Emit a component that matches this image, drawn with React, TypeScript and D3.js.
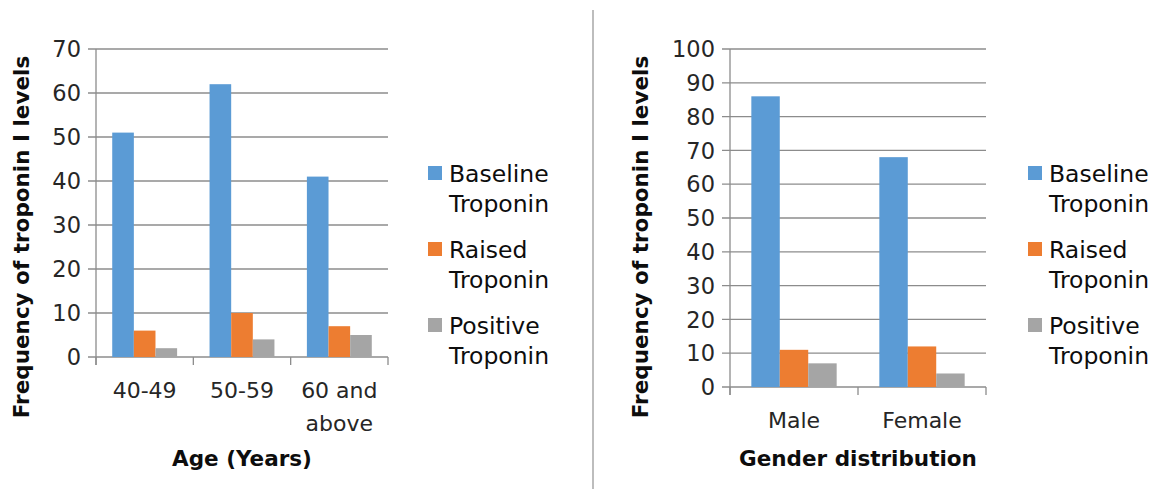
import React from "react";
import * as d3 from "d3";

const seriesNames = ["Baseline Troponin", "Raised Troponin", "Positive Troponin"];
const seriesColors = ["#5B9BD5", "#ED7D31", "#A5A5A5"];

const ageCategories = ["40-49", "50-59", "60 and\nabove"];
const ageBaseline = [51, 62, 41];
const ageRaised = [6, 10, 7];
const agePositive = [2, 4, 5];
const ageTicks = [0, 10, 20, 30, 40, 50, 60, 70];

const genderCategories = ["Male", "Female"];
const genderBaseline = [86, 68];
const genderRaised = [11, 12];
const genderPositive = [7, 4];
const genderTicks = [0, 10, 20, 30, 40, 50, 60, 70, 80, 90, 100];

const FONT = "'DejaVu Sans', sans-serif";
const GRID = "#8c8c8c";

type ChartProps = {
  categories: string[];
  series: number[][];
  ticks: number[];
  x0: number;
  x1: number;
  yTop: number;
  yBottom: number;
  yTitleX: number;
  xTitle: string;
  legendX: number;
};

function Chart(p: ChartProps) {
  const maxV = p.ticks[p.ticks.length - 1];
  const y = d3.scaleLinear().domain([0, maxV]).range([p.yBottom, p.yTop]);
  const xb = d3.scaleBand<string>().domain(p.categories).range([p.x0, p.x1]).paddingInner(0).paddingOuter(0);
  const inner = d3
    .scaleBand<string>()
    .domain(seriesNames)
    .range([0, xb.bandwidth()])
    .paddingInner(0)
    .paddingOuter(0.75);
  const boundaries = p.categories.map((c) => xb(c) as number).concat([p.x1]);
  const legendTop = [166, 242, 318];
  return (
    <g>
      {p.ticks.map((t) => (
        <g key={t}>
          <line x1={p.x0 - 8} x2={p.x1} y1={y(t)} y2={y(t)} stroke={GRID} strokeWidth={1.3} />
          <text x={p.x0 - 15} y={y(t)} dy="0.36em" textAnchor="end" fontSize={22.5} fill="#262626" fontFamily={FONT}>
            {t}
          </text>
        </g>
      ))}
      <line x1={p.x0} x2={p.x0} y1={p.yTop} y2={p.yBottom + 8} stroke={GRID} strokeWidth={1.3} />
      {boundaries.map((b, i) => (
        <line key={i} x1={b} x2={b} y1={p.yBottom} y2={p.yBottom + 8} stroke={GRID} strokeWidth={1.3} />
      ))}
      {p.categories.map((c, ci) =>
        seriesNames.map((s, si) => {
          const v = p.series[si][ci];
          return (
            <rect
              key={c + s}
              x={(xb(c) as number) + (inner(s) as number)}
              y={y(v)}
              width={inner.bandwidth()}
              height={p.yBottom - y(v)}
              fill={seriesColors[si]}
            />
          );
        })
      )}
      {p.categories.map((c) => {
        const lines = c.split("\n");
        const cx = (xb(c) as number) + xb.bandwidth() / 2;
        return (
          <text key={c} x={cx} y={p.yBottom + 41} textAnchor="middle" fontSize={22} fill="#262626" fontFamily={FONT}>
            {lines.map((l, i) => (
              <tspan key={i} x={cx} dy={i === 0 ? 0 : 33}>
                {l}
              </tspan>
            ))}
          </text>
        );
      })}
      <text
        x={(p.x0 + p.x1) / 2}
        y={466}
        textAnchor="middle"
        fontSize={21.5}
        fontWeight="bold"
        fill="#0d0d0d"
        fontFamily={FONT}
      >
        {p.xTitle}
      </text>
      <text
        transform={`translate(${p.yTitleX},237) rotate(-90)`}
        textAnchor="middle"
        fontSize={21.5}
        fontWeight="bold"
        fill="#0d0d0d"
        fontFamily={FONT}
      >
        Frequency of troponin I levels
      </text>
      {seriesNames.map((s, i) => {
        const words = s.split(" ");
        const top = legendTop[i];
        return (
          <g key={s}>
            <rect x={p.legendX} y={top} width={14} height={14} fill={seriesColors[i]} />
            <text x={p.legendX + 21} y={top + 15.5} fontSize={23.5} fill="#0d0d0d" fontFamily={FONT}>
              <tspan x={p.legendX + 21}>{words[0]}</tspan>
              <tspan x={p.legendX + 21} dy={30}>
                {words[1]}
              </tspan>
            </text>
          </g>
        );
      })}
    </g>
  );
}

export default function App() {
  return (
    <svg
      width={1155}
      height={489}
      style={{ position: "absolute", left: 0, top: 0, background: "#fff" }}
    >
      <rect x={0} y={0} width={1155} height={489} fill="#fff" />
      <Chart
        categories={ageCategories}
        series={[ageBaseline, ageRaised, agePositive]}
        ticks={ageTicks}
        x0={96}
        x1={388}
        yTop={49}
        yBottom={357}
        yTitleX={29}
        xTitle="Age (Years)"
        legendX={428}
      />
      <line x1={593} x2={593} y1={10} y2={489} stroke="#9a9a9a" strokeWidth={1.3} />
      <Chart
        categories={genderCategories}
        series={[genderBaseline, genderRaised, genderPositive]}
        ticks={genderTicks}
        x0={730}
        x1={986}
        yTop={49}
        yBottom={387}
        yTitleX={648}
        xTitle="Gender distribution"
        legendX={1028}
      />
    </svg>
  );
}
